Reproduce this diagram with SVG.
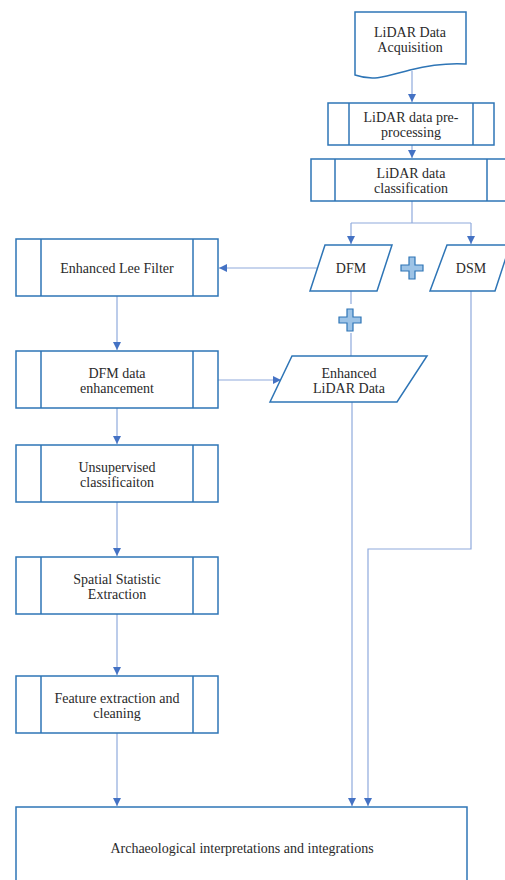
<svg xmlns="http://www.w3.org/2000/svg" width="505" height="880" viewBox="0 0 505 880">
<style>
.box{fill:#fff;stroke:#2E75B6;stroke-width:1.5}
.in{stroke:#2E75B6;stroke-width:1.5}
.con{fill:none;stroke:#8FAADC;stroke-width:1.2}
.arr{marker-end:url(#ah)}
.plus{fill:#9DC3E6;stroke:#2E75B6;stroke-width:1.2}
.t{font-family:'Liberation Serif','Times New Roman',serif;font-size:14px;fill:#2a2a2a;text-anchor:middle}
</style>
<defs>
<marker id="ah" viewBox="0 0 10 10" refX="10" refY="5" markerWidth="8" markerHeight="8" markerUnits="userSpaceOnUse" orient="auto">
<path d="M0,0 L10,5 L0,10 Z" fill="#4472C4"/>
</marker>
<path id="plusShape" d="M-3,-11 H3 V-3 H11 V3 H3 V11 H-3 V3 H-11 V-3 H-3 Z"/>
</defs>
<rect width="505" height="880" fill="#fff"/>
<g id="connectors">
<path class="con arr" d="M412,71 V102"/>
<path class="con arr" d="M412,145 V158"/>
<path class="con" d="M412,201 V223 M351,223 H471"/>
<path class="con arr" d="M351,223 V244"/>
<path class="con arr" d="M471,223 V244"/>
<path class="con arr" d="M317,268 H219"/>
<path class="con" d="M351,291 V304 M351,333 V356"/>
<path class="con arr" d="M117,296 V350"/>
<path class="con arr" d="M218,380 H281"/>
<path class="con arr" d="M117,408 V444"/>
<path class="con arr" d="M117,502 V556"/>
<path class="con arr" d="M117,614 V675"/>
<path class="con arr" d="M117,733 V806"/>
<path class="con arr" d="M352,402 V806"/>
<path class="con arr" d="M471,291 V549 H368 V806"/>
</g>
<g id="acq">
<path class="box" d="M355,12 H466 V64 C450,63 430,65 410,70 C390,75 375,82 355,75 Z"/>
<text class="t" x="410" y="37">LiDAR Data</text>
<text class="t" x="410" y="52">Acquisition</text>
</g>
<g id="preproc">
<rect class="box" x="328" y="103" width="166" height="42"/>
<line class="in" x1="349" y1="103" x2="349" y2="145"/>
<line class="in" x1="473" y1="103" x2="473" y2="145"/>
<text class="t" x="411" y="122">LiDAR data pre-</text>
<text class="t" x="411" y="137">processing</text>
</g>
<g id="classif">
<rect class="box" x="311" y="159" width="200" height="42"/>
<line class="in" x1="335" y1="159" x2="335" y2="201"/>
<line class="in" x1="487" y1="159" x2="487" y2="201"/>
<text class="t" x="411" y="178">LiDAR data</text>
<text class="t" x="411" y="193">classification</text>
</g>
<g id="dfm">
<path class="box" d="M325,245 H392 L377,291 H310 Z"/>
<text class="t" x="351" y="273">DFM</text>
</g>
<g id="plus1"><use href="#plusShape" class="plus" transform="translate(412,268)"/></g>
<g id="dsm">
<path class="box" d="M447,245 H510 L495,291 H430 Z"/>
<text class="t" x="471" y="273">DSM</text>
</g>
<g id="plus2"><use href="#plusShape" class="plus" transform="translate(350,320)"/></g>
<g id="lee">
<rect class="box" x="16" y="239" width="202" height="57"/>
<line class="in" x1="41" y1="239" x2="41" y2="296"/>
<line class="in" x1="193" y1="239" x2="193" y2="296"/>
<text class="t" x="117" y="273">Enhanced Lee Filter</text>
</g>
<g id="dfmenh">
<rect class="box" x="16" y="351" width="202" height="57"/>
<line class="in" x1="41" y1="351" x2="41" y2="408"/>
<line class="in" x1="193" y1="351" x2="193" y2="408"/>
<text class="t" x="117" y="378">DFM data</text>
<text class="t" x="117" y="393">enhancement</text>
</g>
<g id="enhlidar">
<path class="box" d="M292,356 H427 L397,402 H270 Z"/>
<text class="t" x="349" y="378">Enhanced</text>
<text class="t" x="349" y="393">LiDAR Data</text>
</g>
<g id="unsup">
<rect class="box" x="16" y="445" width="202" height="57"/>
<line class="in" x1="41" y1="445" x2="41" y2="502"/>
<line class="in" x1="193" y1="445" x2="193" y2="502"/>
<text class="t" x="117" y="472">Unsupervised</text>
<text class="t" x="117" y="487">classificaiton</text>
</g>
<g id="spatial">
<rect class="box" x="16" y="557" width="202" height="57"/>
<line class="in" x1="41" y1="557" x2="41" y2="614"/>
<line class="in" x1="193" y1="557" x2="193" y2="614"/>
<text class="t" x="117" y="584">Spatial Statistic</text>
<text class="t" x="117" y="599">Extraction</text>
</g>
<g id="feature">
<rect class="box" x="16" y="676" width="202" height="57"/>
<line class="in" x1="41" y1="676" x2="41" y2="733"/>
<line class="in" x1="193" y1="676" x2="193" y2="733"/>
<text class="t" x="117" y="703">Feature extraction and</text>
<text class="t" x="117" y="718">cleaning</text>
</g>
<g id="arch">
<rect class="box" x="16" y="807" width="451" height="90"/>
<text class="t" x="242" y="853">Archaeological interpretations and integrations</text>
</g>
</svg>
